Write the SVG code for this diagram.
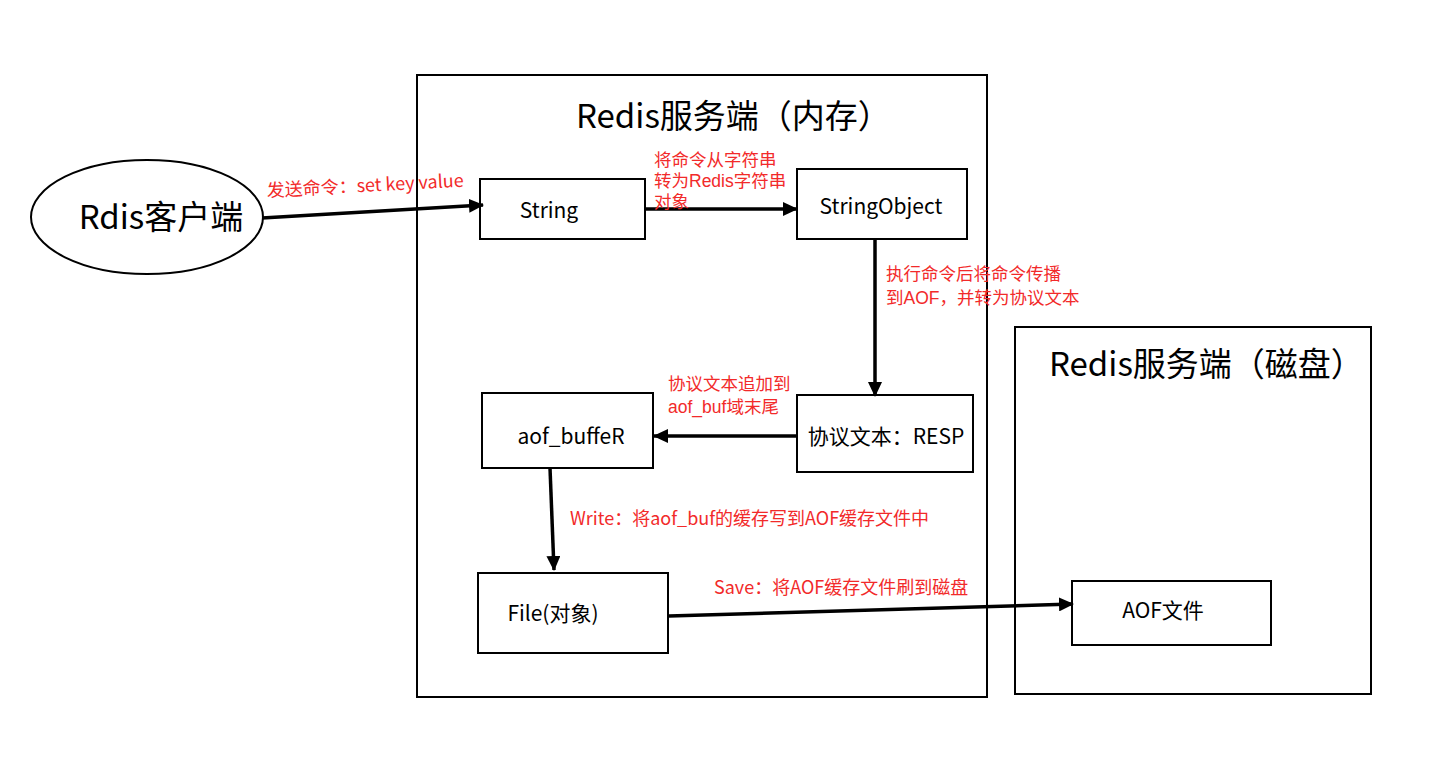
<svg xmlns="http://www.w3.org/2000/svg" width="1436" height="765" viewBox="0 0 1436 765">
<style>
.box{fill:#fff;stroke:#000;stroke-width:2}
.t{font-family:"Noto Sans CJK SC","Open Sans",sans-serif;fill:#000}
.big{font-size:33px}
.mid{font-size:21px}
.lbl{font-family:"Noto Sans CJK SC","Open Sans",sans-serif;font-size:18px;fill:#f22a2a}
.lbl2{font-family:"Liberation Sans","Noto Sans CJK SC",sans-serif;font-size:17.5px;fill:#f22a2a}
.conn{stroke:#000;stroke-width:3.5;fill:none}
</style>
<defs>
<marker id="ah" markerUnits="userSpaceOnUse" markerWidth="16" markerHeight="14" refX="14" refY="7" orient="auto">
<path d="M0,0 L15,7 L0,14 Z" fill="#000"/>
</marker>
</defs>
<rect width="1436" height="765" fill="#fff"/>
<g id="mem">
<rect class="box" x="417" y="75" width="570" height="622"/>
<text class="t big" x="576" y="128">Redis服务端（内存）</text>
</g>
<g id="disk">
<rect class="box" x="1015" y="327" width="356" height="367"/>
<text class="t big" x="1049" y="376">Redis服务端（磁盘）</text>
</g>
<g id="client">
<ellipse cx="147" cy="217" rx="116" ry="57" fill="#fff" stroke="#000" stroke-width="2"/>
<text class="t" x="161" y="229" font-size="33" text-anchor="middle">Rdis客户端</text>
</g>
<g id="string">
<rect class="box" x="480" y="179" width="165" height="60"/>
<text class="t mid" x="549" y="218" text-anchor="middle">String</text>
</g>
<g id="stringobject">
<rect class="box" x="797" y="169" width="170" height="70"/>
<text class="t mid" x="881" y="214" text-anchor="middle">StringObject</text>
</g>
<g id="resp">
<rect class="box" x="797" y="395" width="176" height="77"/>
<text class="t mid" x="886" y="444" text-anchor="middle">协议文本：RESP</text>
</g>
<g id="aofbuf">
<rect class="box" x="482" y="393" width="171" height="75"/>
<text class="t mid" x="571" y="444" text-anchor="middle">aof_buffeR</text>
</g>
<g id="file">
<rect class="box" x="478" y="573" width="190" height="80"/>
<text class="t mid" x="553" y="621" text-anchor="middle">File(对象)</text>
</g>
<g id="aoffile">
<rect class="box" x="1072" y="581" width="199" height="64"/>
<text class="t mid" x="1163" y="618" text-anchor="middle">AOF文件</text>
</g>
<g id="connectors">
<line class="conn" x1="262" y1="218" x2="483" y2="205" marker-end="url(#ah)"/>
<line class="conn" x1="645" y1="209" x2="797" y2="209" marker-end="url(#ah)"/>
<line class="conn" x1="875" y1="239" x2="875" y2="396" marker-end="url(#ah)"/>
<line class="conn" x1="797" y1="436" x2="654" y2="436" marker-end="url(#ah)"/>
<line class="conn" x1="550" y1="468" x2="554" y2="570" marker-end="url(#ah)"/>
<line class="conn" x1="669" y1="616" x2="1073" y2="604" marker-end="url(#ah)"/>
</g>
<g id="labels">
<text class="lbl" x="267" y="197" transform="rotate(-3 267 197)">发送命令：set key value</text>
<text class="lbl2"><tspan x="654" y="166">将命令从字符串</tspan><tspan x="654" y="187">转为Redis字符串</tspan><tspan x="654" y="208">对象</tspan></text>
<text class="lbl2"><tspan x="886" y="280">执行命令后将命令传播</tspan><tspan x="886" y="304">到AOF，并转为协议文本</tspan></text>
<text class="lbl2"><tspan x="668" y="390">协议文本追加到</tspan><tspan x="668" y="413">aof_buf域末尾</tspan></text>
<text class="lbl" x="570" y="525">Write：将aof_buf的缓存写到AOF缓存文件中</text>
<text class="lbl" x="714" y="594">Save：将AOF缓存文件刷到磁盘</text>
</g>
</svg>
